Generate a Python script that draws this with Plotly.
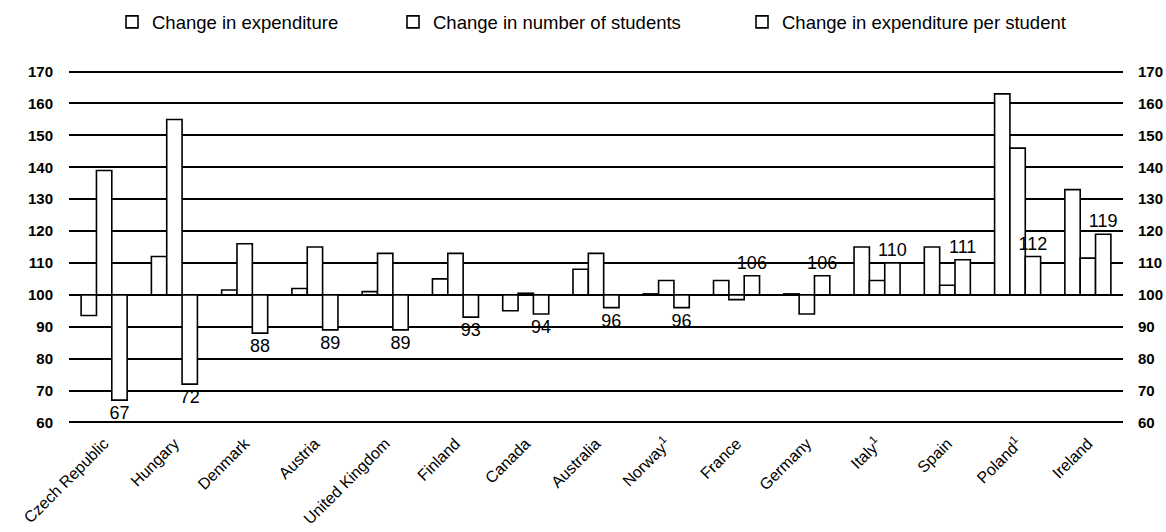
import plotly.graph_objects as go

countries = [
    "Czech Republic", "Hungary", "Denmark", "Austria", "United Kingdom",
    "Finland", "Canada", "Australia", "Norway<sup>1</sup>", "France",
    "Germany", "Italy<sup>1</sup>", "Spain", "Poland<sup>1</sup>", "Ireland",
]

# Index values (1995 = 100)
expenditure = [93.5, 112, 101.5, 102, 101, 105, 95, 108, 100.3, 104.5, 100.3, 115, 115, 163, 133]
students = [139, 155, 116, 115, 113, 113, 100.5, 113, 104.5, 98.5, 94, 104.5, 103, 146, 111.5]
per_student = [67, 72, 88, 89, 89, 93, 94, 96, 96, 106, 106, 110, 111, 112, 119]

BASE = 100
y_ticks = [60, 70, 80, 90, 100, 110, 120, 130, 140, 150, 160, 170]
# small padding so the 60 and 170 rules are kept
y_range = [59.5, 170.5]

FONT = "Arial, Liberation Sans, sans-serif"
bar_line = dict(color="black", width=1.6)

fig = go.Figure()


def add_series(name, values, with_labels=False):
    kw = {}
    if with_labels:
        kw = dict(
            text=[str(v) for v in values],
            textposition="outside",
            textfont=dict(family=FONT, size=18, color="black"),
            constraintext="none",
            cliponaxis=False,
        )
    fig.add_trace(go.Bar(
        name=name,
        x=countries,
        y=[v - BASE for v in values],
        base=BASE,
        marker=dict(color="white", line=bar_line),
        **kw,
    ))


add_series("Change in expenditure", expenditure)
add_series("Change in number of students", students)
add_series("Change in expenditure per student", per_student, with_labels=True)

fig.data[0].legendwidth = 236
fig.data[1].legendwidth = 304

axis_font = dict(family=FONT, size=15, color="black", weight="bold")

fig.update_layout(
    width=1166,
    height=532,
    margin=dict(l=69, r=43, t=70, b=108),
    paper_bgcolor="white",
    plot_bgcolor="white",
    barmode="group",
    bargap=0.345,
    bargroupgap=0,
    showlegend=True,
    legend=dict(
        orientation="h",
        x=0.0408,
        xanchor="left",
        yref="container",
        y=0.958,
        yanchor="middle",
        font=dict(family=FONT, size=18.5, color="black"),
        bgcolor="rgba(0,0,0,0)",
        borderwidth=0,
    ),
    xaxis=dict(
        range=[-0.5, len(countries) - 0.5],
        tickangle=-45,
        tickfont=dict(family=FONT, size=16, color="black"),
        showgrid=False,
        showline=False,
        ticks="outside",
        ticklen=3,
        tickcolor="rgba(0,0,0,0)",
        zeroline=False,
        automargin=False,
    ),
    yaxis=dict(
        range=y_range,
        tickvals=y_ticks,
        tickfont=axis_font,
        showgrid=True,
        gridcolor="black",
        gridwidth=1.6,
        zeroline=False,
        showline=False,
        ticks="outside",
        ticklen=12,
        tickcolor="rgba(0,0,0,0)",
        automargin=False,
    ),
    yaxis2=dict(
        range=y_range,
        tickvals=y_ticks,
        tickfont=axis_font,
        overlaying="y",
        side="right",
        showgrid=False,
        zeroline=False,
        showline=False,
        ticks="outside",
        ticklen=11,
        tickcolor="rgba(0,0,0,0)",
        automargin=False,
    ),
)

# invisible trace so the right-hand scale is rendered
fig.add_trace(go.Scatter(x=[countries[0]], y=[BASE], yaxis="y2", mode="markers",
                         marker=dict(opacity=0), showlegend=False, hoverinfo="skip"))

fig.write_html("out.html")
